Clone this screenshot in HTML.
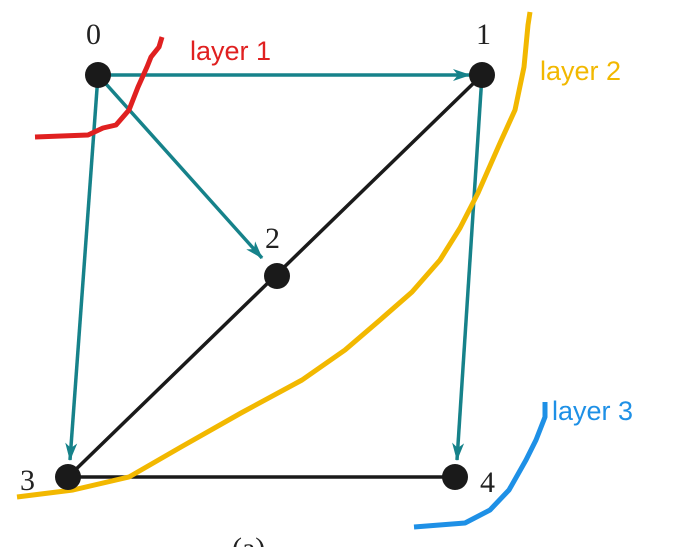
<!DOCTYPE html>
<html><head><meta charset="utf-8"><style>
body{margin:0;background:#fff;width:675px;height:547px;overflow:hidden}
svg{display:block}
.lbl{font-family:"Liberation Serif",serif;font-size:30px;fill:#222}
.ly{font-family:"Liberation Sans","Noto Sans CJK SC",sans-serif;font-size:27px}
</style></head><body>
<svg width="675" height="547">
<defs>
<marker id="ah2" markerWidth="18" markerHeight="18" refX="17" refY="9" orient="auto" markerUnits="userSpaceOnUse" viewBox="0 0 18 18"><path d="M0,3 L18,9 L0,15 L5,9 z" fill="#16828a"/></marker></defs>
<g stroke="#1a1a1a" stroke-width="3.5">
<line x1="482" y1="75" x2="68" y2="477"/>
<line x1="68" y1="477" x2="455" y2="477"/>
</g>
<g stroke="#16828a" stroke-width="3.5" fill="none">
<line x1="98" y1="75" x2="470" y2="75" marker-end="url(#ah2)"/>
<line x1="98" y1="75" x2="262" y2="258" marker-end="url(#ah2)"/>
<line x1="98" y1="75" x2="70" y2="460" marker-end="url(#ah2)"/>
<line x1="482" y1="75" x2="457" y2="460" marker-end="url(#ah2)"/>
</g>
<path d="M35,137 L88,135 L103,128 L116,125 L129,110 L138,87 L147,67 L151,57 L159,47 L162,37" stroke="#e02020" stroke-width="5" fill="none" stroke-linejoin="round"/>
<path d="M530,12 L528,25 L524,67 L515,110 L500,143 L478,193 L460,228 L440,260 L412,292 L380,320 L345,350 L302,380 L241,413 L181,447 L129,477 L73,490 L17,497" stroke="#f2b800" stroke-width="5" fill="none" stroke-linejoin="round"/>
<path d="M545,402 L545,417 L536,440 L526,460 L509,490 L490,510 L465,523 L414,527" stroke="#1e90e6" stroke-width="5" fill="none" stroke-linejoin="round"/>
<g fill="#1a1a1a">
<circle cx="98" cy="75" r="13"/>
<circle cx="482" cy="75" r="13"/>
<circle cx="277" cy="276" r="13"/>
<circle cx="68" cy="477" r="13"/>
<circle cx="455" cy="477" r="13"/>
</g>
<text class="lbl" x="86" y="44">0</text>
<text class="lbl" x="476" y="44">1</text>
<text class="lbl" x="265" y="248">2</text>
<text class="lbl" x="20" y="490">3</text>
<text class="lbl" x="480" y="492">4</text>
<text class="lbl" x="232" y="558">(a)</text>
<text class="ly" x="190" y="60" fill="#e02020">layer 1</text>
<text class="ly" x="540" y="80" fill="#f2b800">layer 2</text>
<text class="ly" x="552" y="420" fill="#1e90e6">layer 3</text>
</svg>
</body></html>
